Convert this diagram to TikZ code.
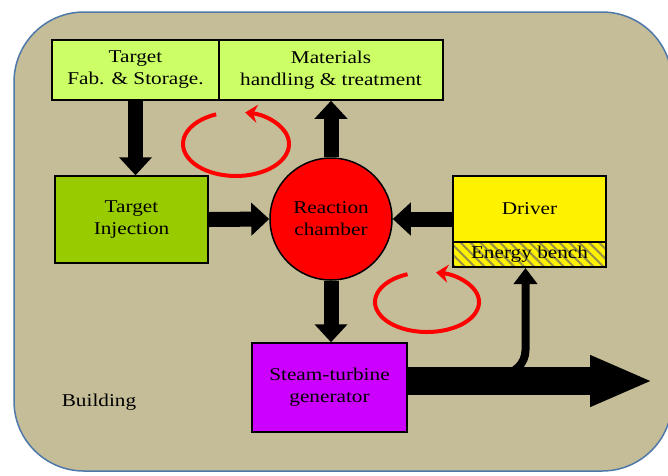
\documentclass[tikz,border=0pt]{standalone}
\usepackage{fontspec}
\setmainfont[FakeStretch=1.18]{Liberation Serif}
\usetikzlibrary{arrows.meta,patterns.meta}
\definecolor{bldg}{RGB}{196,189,151}
\definecolor{bldgedge}{RGB}{79,120,170}
\definecolor{palegreen}{RGB}{204,255,102}
\definecolor{olivegreen}{RGB}{153,204,0}
\definecolor{violet}{RGB}{204,0,255}
\definecolor{stripe}{RGB}{150,145,70}

\begin{document}
\begin{tikzpicture}[x=1pt,y=-1pt,
  unit/.style={draw,line width=1.5pt,inner sep=0pt,align=center,font=\fontsize{18}{22}\selectfont},
  fatarrow/.style={line width=15pt,-{Triangle[width=32pt,length=18pt]}},
  bigarrow/.style={line width=28pt,-{Triangle[width=47pt,length=63pt]}},
  slimarrow/.style={line width=8pt,rounded corners=24pt,-{Triangle[width=23pt,length=16pt]}},
  loopy/.style={red,line width=4pt,-{Stealth[length=12pt,width=18pt]}}]
  \useasboundingbox (0,0) rectangle (668,475);
  \draw[fill=bldg,draw=bldgedge,line width=1.5pt,rounded corners=70pt] (14,12) rectangle (672,471);
  \node[font=\fontsize{18}{22}\selectfont] (building) at (99,402) {Building};

  \node[unit,fill=palegreen,minimum width=167pt,minimum height=60pt] (fab) at (135.5,70) {Target\\Fab. \& Storage.};
  \node[unit,fill=palegreen,minimum width=224pt,minimum height=60pt] (mat) at (331,70) {Materials\\handling \& treatment};
  \node[unit,fill=olivegreen,minimum width=153pt,minimum height=87pt] (inj) at (131.5,219.5) {Target\\Injection};
  \node[unit,circle,fill=red,minimum size=122pt] (chamber) at (331,219) {Reaction\\chamber};
  \node[unit,fill=yellow,minimum width=153pt,minimum height=66pt] (driver) at (529.5,209) {Driver};
  \node[unit,minimum width=153pt,minimum height=25pt,preaction={fill=yellow},
    pattern={Lines[angle=-45,distance=7pt,line width=2pt]},pattern color=stripe] (bench) at (529.5,254.5) {Energy bench};
  \node[unit,fill=violet,minimum width=155pt,minimum height=89pt] (steam) at (329.5,387.5) {Steam-turbine\\generator};

  \draw[fatarrow] (fab.south) -- (fab.south |- inj.north);
  \draw[fatarrow] (chamber.north) -- (mat.south);
  \draw[fatarrow] (inj.east) -- (chamber.west);
  \draw[fatarrow] (driver.west |- chamber.east) -- (chamber.east);
  \draw[fatarrow] (chamber.south) -- (chamber.south |- steam.north);

  \coordinate (out) at (653,381);
  \coordinate (split) at (478,374);
  \draw[bigarrow] (steam.east |- out) -- (out);
  \draw[slimarrow] (split) -| ([xshift=-4pt]bench.south);

  \draw[loopy] (236,144) ++(-112:53 and 32) arc[start angle=-112,end angle=-440,x radius=53,y radius=32];
  \draw[loopy] (427,302) ++(-112:52 and 30) arc[start angle=-112,end angle=-440,x radius=52,y radius=30];
\end{tikzpicture}
\end{document}
